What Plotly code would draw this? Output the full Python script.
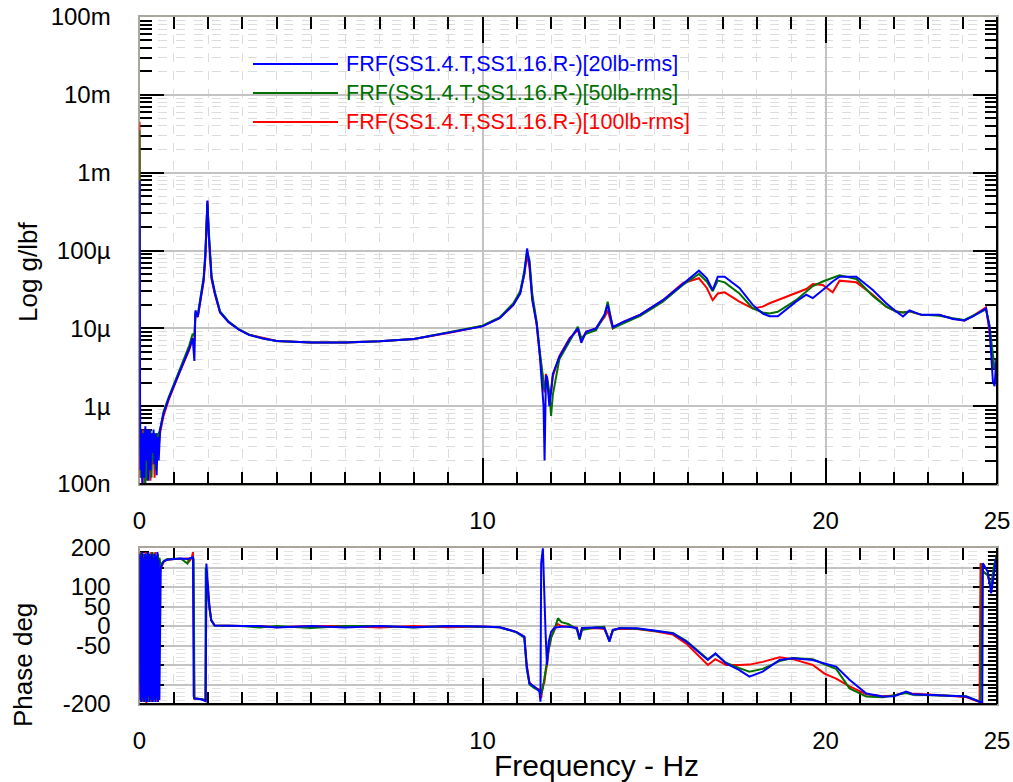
import plotly.graph_objects as go

# ---------------- DATA ----------------
# Magnitude FRF (values in micro g/lbf)
F_MAG = [0.00, 0.02, 0.05, 0.08, 0.11, 0.14, 0.17, 0.20, 0.23, 0.26, 0.29, 0.32, 0.35, 0.38, 0.41,
         0.44, 0.47, 0.50, 0.53, 0.56, 0.60, 0.70, 0.85, 1.00, 1.15, 1.30, 1.45, 1.55, 1.60, 1.63,
         1.70, 1.80, 1.87, 1.92, 1.96, 1.98, 2.02, 2.06, 2.10, 2.20, 2.35, 2.60, 2.90, 3.20, 3.60,
         4.00, 5.00, 6.00, 7.00, 8.00, 9.00, 9.50, 10.00, 10.50, 10.90, 11.10, 11.22, 11.30, 11.37, 11.45,
         11.58, 11.66, 11.74, 11.78, 11.81, 11.85, 11.88, 11.95, 12.00, 12.05, 12.24, 12.54, 12.78, 12.88, 13.02,
         13.31, 13.56, 13.65, 13.80, 14.09, 14.60, 15.26, 15.84, 16.31, 16.54, 16.71, 16.86, 17.06, 17.49, 17.88,
         18.17, 18.37, 18.61, 19.14, 19.44, 19.63, 19.92, 20.21, 20.41, 20.90, 21.38, 21.77, 22.06, 22.26, 22.45,
         22.79, 23.32, 23.71, 24.05, 24.30, 24.68, 24.78, 24.88, 24.93, 24.98, 25.00]

MAG_20LB = [800, 0.15, 0.5, 0.1, 0.45, 0.12, 0.55, 0.2, 0.5, 0.11, 0.5, 0.15, 0.45, 0.25, 0.5,
            0.18, 0.45, 0.13, 0.4, 0.2, 0.5, 0.8, 1.25, 1.8, 2.6, 3.8, 5.5, 7.5, 3.8, 17,
            14, 27, 42, 85, 300, 440, 160, 70, 45, 28, 16, 12, 9.6, 8.2, 7.4,
            6.9, 6.6, 6.6, 6.8, 7.3, 8.7, 9.6, 10.6, 13.5, 20, 28, 50, 106, 68, 23,
            11.5, 5.2, 2.0, 1.0, 0.2, 2.5, 2.3, 1.0, 1.6, 2.6, 4.3, 7.3, 10, 6.5, 9,
            10, 15, 20, 10.4, 12, 15, 23, 37, 55, 44, 31, 46, 46, 33, 20,
            15.5, 14.3, 14.3, 22, 27, 24.5, 31, 40, 46, 46, 31, 21, 16.5, 14.2, 17,
            14.9, 14.9, 13.2, 12.6, 14.2, 18, 10.6, 2.1, 1.8, 4.0, 3.5]

MAG_50LB = [3500, 0.3, 0.12, 0.45, 0.15, 0.5, 0.1, 0.4, 0.11, 0.45, 0.2, 0.5, 0.12, 0.45, 0.2,
            0.4, 0.15, 0.45, 0.3, 0.45, 0.5, 0.85, 1.3, 1.9, 2.8, 4.2, 6.0, 8.5, 8.0, 16,
            15, 29, 45, 95, 330, 400, 180, 75, 47, 29, 16.5, 12.2, 9.7, 8.3, 7.4,
            6.9, 6.6, 6.6, 6.8, 7.3, 8.8, 9.7, 10.8, 13.8, 21, 30, 55, 95, 75, 28,
            12, 5.5, 2.6, 1.8, 1.6, 2.0, 2.4, 1.5, 0.75, 1.4, 4.0, 6.8, 10.5, 7.5, 8.5,
            9.5, 15, 22, 10, 11.5, 14.5, 22, 36, 50, 40, 30, 41, 39, 28, 18,
            16, 15.5, 16.3, 23, 30, 35, 40, 45, 48, 43, 26, 19, 16.5, 16, 16.5,
            15, 14.5, 13.5, 12.8, 14.5, 17.5, 11, 4, 3, 3.2, 4.5]

MAG_100LB = [4500, 0.12, 0.4, 0.2, 0.5, 0.1, 0.45, 0.15, 0.5, 0.2, 0.45, 0.11, 0.4, 0.18, 0.45,
             0.12, 0.4, 0.18, 0.45, 0.3, 0.45, 0.75, 1.2, 1.8, 2.6, 3.7, 5.3, 7.2, 7.0, 15,
             14, 26, 40, 80, 280, 430, 150, 65, 43, 27, 16, 12, 9.6, 8.3, 7.5,
             6.9, 6.6, 6.6, 6.8, 7.3, 8.7, 9.6, 10.7, 13.6, 20, 29, 50, 88, 60, 25,
             11, 5, 2.4, 2.0, 1.5, 2.6, 2.2, 1.3, 1.5, 2.4, 4.4, 7.5, 9.5, 7, 9,
             10, 14, 17, 10, 12, 15, 23, 38, 44, 33, 23, 28, 29, 22, 18,
             19, 21, 23, 28, 32, 37, 36, 29, 41, 39, 27, 19, 16.5, 16, 16.5,
             15, 14.8, 13.4, 12.5, 14.5, 18.5, 9, 3.5, 3, 3.5, 3.5]

# Phase (deg)
F_PH = [0.00, 0.02, 0.04, 0.06, 0.08, 0.10, 0.12, 0.14, 0.16, 0.18, 0.20, 0.22, 0.24, 0.26, 0.28,
        0.30, 0.32, 0.34, 0.36, 0.38, 0.40, 0.42, 0.44, 0.46, 0.48, 0.50, 0.52, 0.54, 0.56, 0.58,
        0.62, 0.70, 0.80, 1.00, 1.20, 1.40, 1.45, 1.52, 1.56, 1.58, 1.60, 1.80, 1.92, 1.93, 1.95,
        1.98, 2.00, 2.04, 2.09, 2.19, 3.00, 3.50, 4.00, 5.00, 6.00, 7.00, 8.00, 9.00, 10.00, 10.50,
        10.98, 11.22, 11.29, 11.37, 11.52, 11.66, 11.69, 11.71, 11.76, 11.80, 11.84, 11.88, 11.93, 12.00, 12.10,
        12.20, 12.30, 12.50, 12.75, 12.83, 12.90, 13.30, 13.55, 13.70, 13.80, 14.00, 14.50, 15.06, 15.55, 15.94,
        16.33, 16.57, 16.79, 17.10, 17.49, 17.78, 18.17, 18.66, 19.05, 19.63, 19.97, 20.31, 20.70, 21.19, 21.67,
        22.00, 22.35, 22.55, 23.13, 24.10, 24.49, 24.52, 24.57, 24.59, 24.73, 24.83, 24.90, 24.97, 25.00]

PH_20LB = [185, -190, 180, -195, 190, -185, 175, -195, 185, -190, 180, -195, 190, -180, 185,
           -195, 180, -190, 185, -195, 175, -190, 185, -195, 180, -185, 190, -195, 170, -190,
           150, 165, 170, 172, 173, 172, 173, 174, 176, -180, -186, -188, -192, -193, 160,
           120, 80, 50, 15, 1, 0, 0, -4, 0, -4, 0, -3, 0, -1, -3,
           -15, -27, -104, -147, -156, -168, -194, 161, 199, 60, -20, -100, -40, -15, -4,
           -3, -2, -2, -5, -32, -5, -4, -5, -40, -10, -6, -6, -12, -19, -40,
           -70, -87, -70, -96, -113, -130, -117, -87, -83, -87, -96, -104, -138, -173, -181,
           -180, -168, -175, -177, -181, -194, -196, -198, 161, 139, 84, 130, 169, 180]

PH_50LB = [-150, 185, -195, 190, -180, 185, -190, 180, -195, 60, -190, 185, -185, 190, -195,
           180, -190, 185, -180, 190, -195, 185, -190, 180, -185, 175, -190, 185, -180, 175,
           155, 166, 171, 172, 173, 160, 172, 174, 175, 172, -185, -188, -190, 150, 120,
           90, 70, 45, 15, 1, 0, -4, 0, -5, 0, 0, -4, 0, -1, -3,
           -16, -30, -110, -150, -160, -165, -170, -175, -160, -140, -110, -90, -60, -30, -8,
           20, 10, 5, -8, -35, -10, -3, -2, -38, -12, -5, -7, -12, -18, -38,
           -68, -85, -72, -94, -108, -117, -110, -90, -82, -85, -98, -110, -160, -181, -183,
           -178, -172, -176, -178, -180, -193, -195, 161, 140, 130, 100, 150, 175, 185]

PH_100LB = [-170, 190, -195, 180, -190, 185, -195, 175, -185, 190, -200, 185, -190, 75, -195,
            180, -185, 190, -195, 180, -190, 185, -180, 190, -195, 180, -185, 175, -190, 170,
            148, 164, 170, 172, 172, 173, 166, 174, 190, -182, -186, -187, -190, -190, 140,
            100, 75, 48, 15, 1, 0, 0, -3, 0, 0, -4, 0, -3, -1, -3,
            -15, -28, -100, -145, -158, -163, -180, -185, -150, -147, -120, -100, -60, -30, -10,
            5, 0, -2, -4, -30, -6, -5, -8, -35, -10, -7, -8, -14, -22, -45,
            -78, -100, -85, -100, -100, -99, -92, -80, -85, -100, -122, -135, -155, -175, -180,
            -178, -170, -174, -176, -182, -195, 161, 150, 140, 130, 95, 140, 160, 175]

SERIES = ["FRF(SS1.4.T,SS1.16.R-)[20lb-rms]",
          "FRF(SS1.4.T,SS1.16.R-)[50lb-rms]",
          "FRF(SS1.4.T,SS1.16.R-)[100lb-rms]"]
COLORS = ["#0000ff", "#007000", "#ff0000"]

MAG_TICKS = [1e-7, 1e-6, 1e-5, 1e-4, 1e-3, 1e-2, 1e-1]
MAG_TICKTEXT = ["100n", "1µ", "10µ", "100µ", "1m", "10m", "100m"]
PH_TICKS = [-200, -150, -100, -50, 0, 50, 100, 150, 200]
PH_TICKTEXT = ["-200", "", "", "-50", "0", "50", "100", "", "200"]
X_TICKS = [0, 10, 20, 25]

# ---------------- FIGURE ----------------
W, H = 1013, 782
def px(x): return x / W
def py(y): return 1 - y / H

FONT = "Liberation Sans, Arial, sans-serif"
fig = go.Figure()

mags = [MAG_20LB, MAG_50LB, MAG_100LB]
phs = [PH_20LB, PH_50LB, PH_100LB]
for i in [2, 1, 0]:
    fig.add_trace(go.Scatter(x=F_MAG, y=[v * 1e-6 for v in mags[i]], mode="lines",
                             line=dict(color=COLORS[i], width=2), name=SERIES[i],
                             showlegend=False, xaxis="x", yaxis="y"))
    fig.add_trace(go.Scatter(x=F_PH, y=phs[i], mode="lines",
                             line=dict(color=COLORS[i], width=2), name=SERIES[i],
                             showlegend=False, xaxis="x2", yaxis="y2"))

GRAY_FRAME = "#aaa69c"
minor_x = [v for v in range(1, 25)]
minor_log = [k * 10.0 ** e for e in range(-7, -1) for k in range(2, 10)]

def xaxis_style(anchor):
    return dict(domain=[px(139.5), px(997)], range=[0, 25], anchor=anchor,
                tickvals=X_TICKS, ticktext=[str(v) for v in X_TICKS],
                ticks="inside", ticklen=26, tickwidth=2, tickcolor="black",
                showline=True, linecolor=GRAY_FRAME, linewidth=2, mirror="ticks",
                showgrid=True, gridcolor="#c3c3c3", gridwidth=2, zeroline=False,
                minor=dict(tickvals=minor_x, ticks="inside", ticklen=12, tickwidth=2,
                           tickcolor="black", showgrid=True, gridcolor="#dcdcdc",
                           griddash="dash", gridwidth=1),
                tickfont=dict(family=FONT, size=24, color="black"),
                ticklabelstandoff=14, layer="below traces", automargin=False)

fig.update_layout(
    width=W, height=H, margin=dict(l=0, r=0, t=0, b=0),
    paper_bgcolor="white", plot_bgcolor="white", showlegend=False,
    xaxis=xaxis_style("y"),
    xaxis2=xaxis_style("y2"),
    yaxis=dict(domain=[py(484), py(17)], type="log", range=[-7, -1], anchor="x",
               tickvals=MAG_TICKS, ticktext=MAG_TICKTEXT,
               ticks="inside", ticklen=24, tickwidth=2, tickcolor="black",
               showline=True, linecolor=GRAY_FRAME, linewidth=2, mirror="ticks",
               showgrid=True, gridcolor="#c3c3c3", gridwidth=2, zeroline=False,
               minor=dict(tickvals=minor_log, ticks="inside", ticklen=12, tickwidth=2,
                          tickcolor="black", showgrid=True, gridcolor="#dcdcdc",
                          griddash="dash", gridwidth=1),
               tickfont=dict(family=FONT, size=24, color="black"),
               ticklabelstandoff=22, layer="below traces", automargin=False),
    yaxis2=dict(domain=[py(704), py(548)], range=[-200, 200], anchor="x2",
                tickvals=PH_TICKS, ticktext=PH_TICKTEXT,
                ticks="inside", ticklen=24, tickwidth=2, tickcolor="black",
                showline=True, linecolor=GRAY_FRAME, linewidth=2, mirror="ticks",
                showgrid=True, gridcolor="#c3c3c3", gridwidth=2, zeroline=False,
                minor=dict(dtick=10, ticks="inside", ticklen=9, tickwidth=2,
                           tickcolor="black", showgrid=True, gridcolor="#e2e2e2",
                           griddash="dash", gridwidth=1),
                tickfont=dict(family=FONT, size=24, color="black"),
                ticklabelstandoff=22, layer="below traces", automargin=False),
)

# black bottom / right frame edges
shapes = []
for xr, yr in [("x domain", "y domain"), ("x2 domain", "y2 domain")]:
    shapes.append(dict(type="line", xref=xr, yref=yr, x0=0, x1=1, y0=0, y1=0,
                       line=dict(color="black", width=2), layer="above"))
    shapes.append(dict(type="line", xref=xr, yref=yr, x0=1, x1=1, y0=0, y1=1,
                       line=dict(color="black", width=2), layer="above"))

# manual legend (long line samples)
annotations = []
for i, yy in enumerate([64, 93, 122]):
    shapes.append(dict(type="line", xref="paper", yref="paper",
                       x0=px(253), x1=px(338), y0=py(yy), y1=py(yy),
                       line=dict(color=COLORS[i], width=2), layer="above"))
    annotations.append(dict(text=SERIES[i], xref="paper", yref="paper",
                            x=px(344), y=py(yy), xanchor="left", yanchor="middle",
                            showarrow=False,
                            font=dict(family=FONT, size=21.5, color=COLORS[i])))

# axis titles
annotations.append(dict(text="Log g/lbf", xref="paper", yref="paper", x=px(28), y=py(272),
                        textangle=-90, showarrow=False, xanchor="center", yanchor="middle",
                        font=dict(family=FONT, size=26, color="black")))
annotations.append(dict(text="Phase deg", xref="paper", yref="paper", x=px(23), y=py(665),
                        textangle=-90, showarrow=False, xanchor="center", yanchor="middle",
                        font=dict(family=FONT, size=26, color="black")))
annotations.append(dict(text="Frequency - Hz", xref="paper", yref="paper", x=px(596), y=py(765),
                        showarrow=False, xanchor="center", yanchor="middle",
                        font=dict(family=FONT, size=30, color="black")))

fig.update_layout(shapes=shapes, annotations=annotations)
fig.write_html("out.html")
